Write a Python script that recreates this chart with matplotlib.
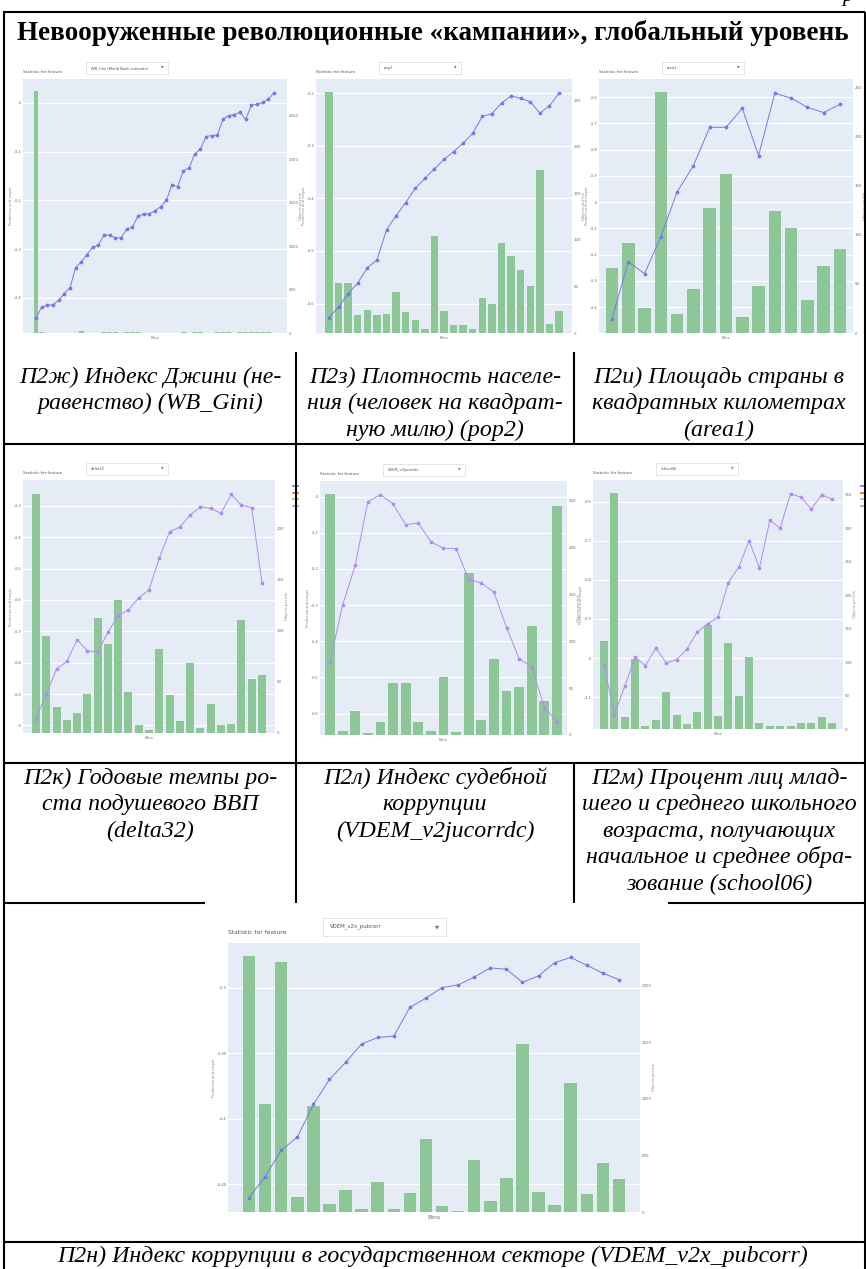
import matplotlib
matplotlib.use("Agg")
import matplotlib.pyplot as plt
from matplotlib.lines import Line2D
from matplotlib.patches import Rectangle
from matplotlib.ticker import FuncFormatter

W, H = 866, 1269

# ---- feature statistics: mean prediction per bin (line) and objects per bin (bars) ----
gini_line = [-4.441, -4.419, -4.415, -4.414, -4.405, -4.391, -4.379, -4.338, -4.326, -4.311,
             -4.296, -4.292, -4.271, -4.271, -4.277, -4.277, -4.259, -4.255, -4.232, -4.228,
             -4.228, -4.221, -4.213, -4.200, -4.168, -4.172, -4.139, -4.134, -4.105, -4.095,
             -4.069, -4.067, -4.066, -4.033, -4.026, -4.024, -4.019, -4.034, -4.005, -4.003,
             -3.999, -3.993, -3.979]
gini_bars = [2780, 10, 0, 0, 0, 0, 0, 0, 25, 0, 0, 0, 8, 8, 8, 0, 8, 8, 8, 0, 0, 0,
             0, 0, 0, 0, 6, 0, 12, 12, 0, 0, 12, 12, 8, 0, 12, 12, 12, 12, 12, 12, 0]
gini_lticks = [-4.4, -4.3, -4.2, -4.1, -4.0]
gini_rticks = [0, 500, 1000, 1500, 2000, 2500]

pop2_line = [-4.627, -4.606, -4.581, -4.561, -4.532, -4.517, -4.460, -4.433, -4.408, -4.381,
             -4.362, -4.344, -4.326, -4.311, -4.295, -4.276, -4.244, -4.239, -4.219, -4.205,
             -4.210, -4.216, -4.238, -4.224, -4.200]
pop2_bars = [259, 54, 54, 19, 25, 19, 20, 44, 23, 14, 4, 104, 24, 9, 9, 4, 38, 31, 97, 83,
             68, 50, 175, 10, 24]
pop2_lticks = [-4.6, -4.5, -4.4, -4.3, -4.2]
pop2_rticks = [0, 50, 100, 150, 200, 250]

area1_line = [-4.445, -4.228, -4.273, -4.132, -3.961, -3.861, -3.715, -3.715, -3.643, -3.823,
              -3.585, -3.604, -3.639, -3.659, -3.627]
area1_bars = [66, 92, 25, 246, 19, 45, 127, 162, 16, 48, 124, 107, 34, 68, 86]
area1_lticks = [-4.4, -4.3, -4.2, -4.1, -4.0, -3.9, -3.8, -3.7, -3.6]
area1_rticks = [0, 50, 100, 150, 200, 250]

delta32_line = [-4.978, -4.900, -4.820, -4.796, -4.727, -4.762, -4.767, -4.703, -4.650, -4.632,
                -4.593, -4.568, -4.467, -4.383, -4.368, -4.330, -4.303, -4.308, -4.324, -4.264,
                -4.298, -4.306, -4.547]
delta32_bars = [233, 95, 25, 13, 20, 38, 112, 87, 130, 40, 8, 3, 82, 37, 12, 68, 5, 28, 8, 9,
                110, 53, 57]
delta32_lticks = [-5.0, -4.9, -4.8, -4.7, -4.6, -4.5, -4.4, -4.3]
delta32_rticks = [0, 50, 100, 150, 200]

jucorr_line = [-4.457, -4.300, -4.190, -4.014, -3.995, -4.020, -4.078, -4.073, -4.125, -4.143,
               -4.144, -4.229, -4.239, -4.264, -4.362, -4.448, -4.471, -4.583, -4.622]
jucorr_bars = [257, 4, 26, 2, 14, 55, 56, 14, 4, 62, 3, 173, 16, 81, 47, 51, 116, 36, 244]
jucorr_lticks = [-4.6, -4.5, -4.4, -4.3, -4.2, -4.1, -4.0]
jucorr_rticks = [0, 50, 100, 150, 200, 250]

school06_line = [-4.017, -4.144, -4.072, -3.998, -4.019, -3.974, -4.012, -4.004, -3.977, -3.933,
                 -3.912, -3.896, -3.807, -3.768, -3.700, -3.770, -3.648, -3.668, -3.580, -3.589,
                 -3.619, -3.583, -3.594]
school06_bars = [131, 353, 18, 105, 5, 14, 56, 21, 7, 26, 156, 19, 128, 49, 108, 9, 4, 4, 4,
                 9, 9, 18, 9]
school06_lticks = [-4.1, -4.0, -3.9, -3.8, -3.7, -3.6]
school06_rticks = [0, 50, 100, 150, 200, 250, 300, 350]

pubcorr_line = [-4.460, -4.444, -4.424, -4.414, -4.389, -4.370, -4.357, -4.343, -4.338, -4.337,
                -4.315, -4.308, -4.300, -4.298, -4.292, -4.285, -4.286, -4.296, -4.291, -4.281,
                -4.277, -4.283, -4.289, -4.294]
pubcorr_bars = [2260, 951, 2207, 130, 936, 74, 198, 27, 266, 24, 168, 644, 50, 6, 461, 100,
                304, 1489, 177, 65, 1137, 157, 437, 290]
pubcorr_lticks = [-4.45, -4.4, -4.35, -4.3]
pubcorr_rticks = [0, 500, 1000, 1500, 2000]

title = "Невооруженные революционные «кампании», глобальный уровень"
captions_row1 = [
    ["П2ж) Индекс Джини (не-", "равенство) (WB_Gini)"],
    ["П2з) Плотность населе-", "ния (человек на квадрат-", "ную милю) (pop2)"],
    ["П2и) Площадь страны в", "квадратных километрах", "(area1)"],
]
captions_row2 = [
    ["П2к) Годовые темпы ро-", "ста подушевого ВВП", "(delta32)"],
    ["П2л) Индекс судебной", "коррупции", "(VDEM_v2jucorrdc)"],
    ["П2м) Процент лиц млад-", "шего и среднего школьного", "возраста, получающих",
     "начальное и среднее обра-", "зование (school06)"],
]
caption_last = "П2н) Индекс коррупции в государственном секторе (VDEM_v2x_pubcorr)"

PLOT_BG = "#E5ECF6"
BAR_GREEN = "#8DC797"
LINE_BLUE = "#7C76E4"
LINE_LILAC = "#B08CF2"

charts = [
    dict(line=gini_line, bars=gini_bars, lt=gini_lticks, rt=gini_rticks,
         llim=(-4.472, -3.951), rtop=2923, box=(23, 79, 287, 333), pad=13,
         feature="WB_Gini (World Bank estimate)", color=LINE_BLUE, legend=False, s=1.0),
    dict(line=pop2_line, bars=pop2_bars, lt=pop2_lticks, rt=pop2_rticks,
         llim=(-4.656, -4.173), rtop=273, box=(316, 79, 572, 333), pad=13,
         feature="pop2", color=LINE_BLUE, legend=False, s=1.0),
    dict(line=area1_line, bars=area1_bars, lt=area1_lticks, rt=area1_rticks,
         llim=(-4.499, -3.531), rtop=259, box=(599, 79, 853, 333), pad=13,
         feature="area1", color=LINE_BLUE, legend=False, s=1.0),
    dict(line=delta32_line, bars=delta32_bars, lt=delta32_lticks, rt=delta32_rticks,
         llim=(-5.024, -4.218), rtop=247, box=(23, 480, 275, 733), pad=13,
         feature="delta32", color=LINE_LILAC, legend=True, s=1.0),
    dict(line=jucorr_line, bars=jucorr_bars, lt=jucorr_lticks, rt=jucorr_rticks,
         llim=(-4.659, -3.957), rtop=271, box=(320, 481, 567, 735), pad=10,
         feature="VDEM_v2jucorrdc", color=LINE_LILAC, legend=False, s=1.0),
    dict(line=school06_line, bars=school06_bars, lt=school06_lticks, rt=school06_rticks,
         llim=(-4.181, -3.545), rtop=372, box=(593, 480, 843, 729), pad=11,
         feature="school06", color=LINE_LILAC, legend=True, s=1.0),
    dict(line=pubcorr_line, bars=pubcorr_bars, lt=pubcorr_lticks, rt=pubcorr_rticks,
         llim=(-4.471, -4.266), rtop=2378, box=(228, 943, 640, 1212), pad=21,
         feature="VDEM_v2x_pubcorr", color=LINE_BLUE, legend=False, s=1.5),
]

fig = plt.figure(figsize=(W / 100, H / 100), dpi=100)
fig.patch.set_facecolor("white")


def fx(x):
    return x / W


def fy(y):
    return 1 - y / H


def hline(y, x0, x1, lw=1.5):
    fig.add_artist(Line2D([fx(x0), fx(x1)], [fy(y), fy(y)], transform=fig.transFigure,
                          color="black", lw=lw, solid_capstyle="butt"))


def vline(x, y0, y1, lw=1.5):
    fig.add_artist(Line2D([fx(x), fx(x)], [fy(y0), fy(y1)], transform=fig.transFigure,
                          color="black", lw=lw, solid_capstyle="butt"))


fmt = FuncFormatter(lambda v, p: f"{v:g}")
TICK_C = "#6e6e6e"


def draw_chart(c):
    x0, y0, x1, y1 = c["box"]
    n = len(c["bars"])
    xs = list(range(n))
    pitch = (x1 - x0 - 2 * c["pad"]) / (n - 1)
    pad = c["pad"] / pitch
    lo, hi = c["llim"]

    # bars on the base axes (right scale), line on the twin (left scale)
    axb = fig.add_axes([fx(x0), fy(y1), (x1 - x0) / W, (y1 - y0) / H])
    axl = axb.twinx()

    axb.set_facecolor(PLOT_BG)
    axb.bar(xs, c["bars"], width=0.78, color=BAR_GREEN, zorder=2)
    for t in c["lt"]:
        axb.axhline((t - lo) / (hi - lo) * c["rtop"], color="white", lw=0.8, zorder=1)
    axb.set_xlim(-pad, n - 1 + pad)
    axb.set_ylim(0, c["rtop"])
    axb.set_xticks([])
    axb.set_yticks(c["rt"])
    axb.yaxis.set_major_formatter(fmt)
    axb.yaxis.tick_right()
    axb.yaxis.set_label_position("right")
    axb.set_ylabel("Objects per bin", fontsize=2.6, color="#888888", labelpad=0.5)
    axb.set_xlabel("Bins", fontsize=3 * c["s"], color="#777777", labelpad=2)

    axl.plot(xs, c["line"], color=c["color"], lw=0.7, marker="o", ms=1.7, zorder=3)
    axl.set_ylim(lo, hi)
    axl.set_yticks(c["lt"])
    axl.yaxis.set_major_formatter(fmt)
    axl.yaxis.tick_left()
    axl.yaxis.set_label_position("left")
    axl.set_ylabel("Prediction and target", fontsize=2.6, color="#888888", labelpad=0.5)

    for a in (axb, axl):
        for sp in a.spines.values():
            sp.set_visible(False)
        a.tick_params(length=0, labelsize=2.9, colors=TICK_C, pad=1)

    # header of the widget: caption and feature selector
    s = c["s"]
    fig.text(fx(x0), fy(y0 - 7 * s), "Statistic for feature", fontsize=2.9 * s,
             color="#555555", va="center", ha="left")
    dx0, dx1 = x0 + 63 * s, x0 + 145 * s
    dy0, dy1 = y0 - 17 * s, y0 - 5 * s
    fig.add_artist(Rectangle((fx(dx0), fy(dy1)), (dx1 - dx0) / W, (dy1 - dy0) / H,
                             transform=fig.transFigure, facecolor="white",
                             edgecolor="#dcdcdc", lw=0.5))
    fig.text(fx(dx0 + 5 * s), fy((dy0 + dy1) / 2), c["feature"], fontsize=2.6 * s,
             color="#555555", va="center", ha="left")
    fig.text(fx(dx1 - 6 * s), fy((dy0 + dy1) / 2), "▼", fontsize=2.4 * s,
             color="#666666", va="center", ha="center")

    if c["legend"]:
        for yy, col in zip((6, 13, 19, 26), ("#636EFA", "#EF553B", BAR_GREEN, c["color"])):
            fig.add_artist(Line2D([fx(x1 + 18), fx(x1 + 23)], [fy(y0 + yy), fy(y0 + yy)],
                                  transform=fig.transFigure, color=col, lw=1.2))


for c in charts:
    draw_chart(c)

# ---- table frame ----
hline(12, 3, 865)
vline(4, 12, H)
vline(865, 12, H)
vline(296, 352, 444)
vline(574, 352, 444)
hline(444, 3, 865)
vline(296, 444, 903)
vline(574, 763, 903)
hline(763, 3, 865)
hline(903, 3, 205)
hline(903, 668, 865)
hline(1242, 3, 865)

# ---- texts ----
serif = "Liberation Serif"
fig.text(fx(848), fy(1), "р", fontsize=16, family=serif, style="italic",
         ha="center", va="baseline")
t_title = fig.text(fx(433), fy(40), title, fontsize=17, family=serif, weight="bold",
                   ha="center", va="baseline")

cap_texts = []
col_cx = [150, 435, 719]
for rows, y_first in ((captions_row1, 377), (captions_row2, 778)):
    for cx, lines in zip(col_cx, rows):
        for i, ln in enumerate(lines):
            cap_texts.append(fig.text(fx(cx), fy(y_first + 26.5 * i), ln, fontsize=16,
                                      family=serif, style="italic", ha="center", va="center"))
cap_texts.append(fig.text(fx(433), fy(1256), caption_last, fontsize=16, family=serif,
                          style="italic", ha="center", va="center"))

# scale fonts so the lines take the same width as in the typeset page
fig.canvas.draw()
rend = fig.canvas.get_renderer()
w = t_title.get_window_extent(rend).width
t_title.set_fontsize(17 * 833 / w)
ref = [t for t in cap_texts if t.get_text() == "квадратных километрах"][0]
k = 254 / ref.get_window_extent(rend).width
for t in cap_texts:
    t.set_fontsize(16 * k)

fig.savefig("out.png", dpi=100, facecolor="white")
